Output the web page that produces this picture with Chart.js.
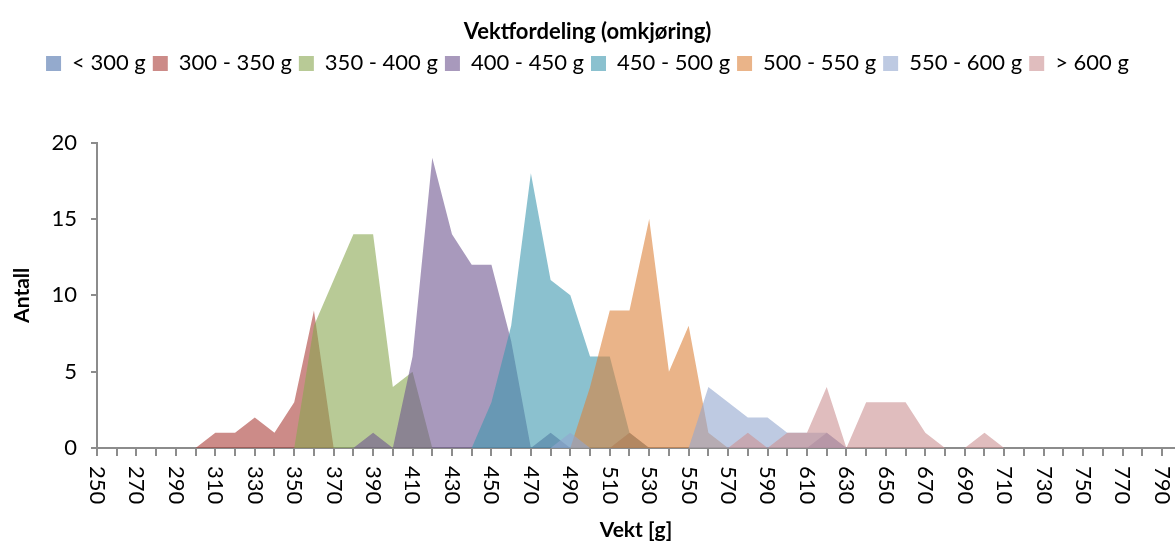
<!DOCTYPE html>
<html>
<head>
<meta charset="utf-8">
<script src="https://cdn.jsdelivr.net/npm/chart.js@4/dist/chart.umd.min.js"></script>
<style>
  body { margin: 0; background: #fff; }
  #wrap { width: 1175px; height: 543px; }
</style>
</head>
<body>
<div id="wrap"><canvas id="chart"></canvas></div>
<script>
// weight classes (g) on the category axis
const weights = [250, 260, 270, 280, 290, 300, 310, 320, 330, 340,
  350, 360, 370, 380, 390, 400, 410, 420, 430, 440,
  450, 460, 470, 480, 490, 500, 510, 520, 530, 540,
  550, 560, 570, 580, 590, 600, 610, 620, 630, 640,
  650, 660, 670, 680, 690, 700, 710, 720, 730, 740,
  750, 760, 770, 780, 790];

// labelled ticks on the x axis
const xTickLabels = [250, 270, 290, 310, 330, 350, 370, 390, 410, 430, 450, 470, 490,
  510, 530, 550, 570, 590, 610, 630, 650, 670, 690, 710, 730, 750, 770, 790];

const seriesNames = ["< 300 g", "300 - 350 g", "350 - 400 g", "400 - 450 g",
  "450 - 500 g", "500 - 550 g", "550 - 600 g", "> 600 g"];

// counts per weight class, one array per series
const under300 = [0,0,0,0,0, 0,0,0,0,0, 0,0,0,0,0, 0,0,0,0,0, 0,0,0,0,0, 0,0,0,0,0, 0,0,0,0,0, 0,0,0,0,0, 0,0,0,0,0, 0,0,0,0,0, 0,0,0,0,0];
const g300to350 = [0,0,0,0,0, 0,1,1,2,1, 3,9,0,0,0, 0,0,0,0,0, 0,0,0,0,0, 0,0,1,0,0, 0,0,0,0,0, 0,0,0,0,0, 0,0,0,0,0, 0,0,0,0,0, 0,0,0,0,0];
const g350to400 = [0,0,0,0,0, 0,0,0,0,0, 0,8,11,14,14, 4,5,0,0,0, 0,0,0,0,0, 0,0,0,0,0, 0,0,0,0,0, 0,0,0,0,0, 0,0,0,0,0, 0,0,0,0,0, 0,0,0,0,0];
const g400to450 = [0,0,0,0,0, 0,0,0,0,0, 0,0,0,0,1, 0,6,19,14,12, 12,7,0,1,0, 0,0,0,0,0, 0,0,0,0,0, 0,0,1,0,0, 0,0,0,0,0, 0,0,0,0,0, 0,0,0,0,0];
const g450to500 = [0,0,0,0,0, 0,0,0,0,0, 0,0,0,0,0, 0,0,0,0,0, 3,8,18,11,10, 6,6,1,0,0, 0,0,0,0,0, 0,0,0,0,0, 0,0,0,0,0, 0,0,0,0,0, 0,0,0,0,0];
const g500to550 = [0,0,0,0,0, 0,0,0,0,0, 0,0,0,0,0, 0,0,0,0,0, 0,0,0,0,0, 4,9,9,15,5, 8,1,0,0,0, 0,0,0,0,0, 0,0,0,0,0, 0,0,0,0,0, 0,0,0,0,0];
const g550to600 = [0,0,0,0,0, 0,0,0,0,0, 0,0,0,0,0, 0,0,0,0,0, 0,0,0,0,1, 0,0,0,0,0, 0,4,3,2,2, 1,1,1,0,0, 0,0,0,0,0, 0,0,0,0,0, 0,0,0,0,0];
const over600 = [0,0,0,0,0, 0,0,0,0,0, 0,0,0,0,0, 0,0,0,0,0, 0,0,0,0,0, 0,0,0,0,0, 0,0,0,1,0, 1,1,4,0,3, 3,3,1,0,0, 1,0,0,0,0, 0,0,0,0,0];

const allSeries = [under300, g300to350, g350to400, g400to450, g450to500, g500to550, g550to600, over600];

// semi transparent fills, like the Excel area chart
const fills = [
  "rgba(77, 113, 172, 0.6)",
  "rgba(170, 62, 57, 0.6)",
  "rgba(137, 167, 80, 0.6)",
  "rgba(110, 85, 143, 0.6)",
  "rgba(62, 152, 175, 0.6)",
  "rgba(220, 130, 58, 0.6)",
  "rgba(147, 167, 207, 0.6)",
  "rgba(203, 145, 147, 0.6)"
];

const FONT = "Lato, 'Open Sans', sans-serif";
const AXIS_GREY = "#8c8c8c";

const datasets = allSeries.map((values, i) => ({
  label: seriesNames[i],
  data: values.map((v, j) => ({ x: weights[j], y: v })),
  backgroundColor: fills[i],
  borderWidth: 0,
  borderColor: "rgba(0,0,0,0)",
  pointRadius: 0,
  pointHoverRadius: 0,
  tension: 0,
  fill: "origin",
  order: -i // later series drawn on top
}));

// x tick labels, rotated clockwise like the original
const xLabelPlugin = {
  id: "xLabels",
  afterDraw(chart) {
    const xs = chart.scales.x;
    const ctx = chart.ctx;
    ctx.save();
    ctx.font = "22px " + FONT;
    ctx.fillStyle = "#000";
    ctx.textAlign = "left";
    ctx.textBaseline = "middle";
    xTickLabels.forEach((w) => {
      const px = xs.getPixelForValue(w);
      ctx.save();
      ctx.translate(px, xs.top + 18);
      ctx.rotate(Math.PI / 2);
      ctx.fillText(String(w), 0, 0);
      ctx.restore();
    });
    ctx.restore();
  }
};

new Chart(document.getElementById("chart"), {
  type: "line",
  data: { datasets: datasets },
  options: {
    responsive: true,
    maintainAspectRatio: false,
    devicePixelRatio: 1,
    animation: false,
    events: [],
    layout: { padding: { left: 0, right: 0, top: 0, bottom: 0 } },
    plugins: {
      title: {
        display: true,
        text: "Vektfordeling (omkjøring)",
        color: "#000",
        font: { family: FONT, size: 22, weight: "bold" },
        padding: { top: 19, bottom: 0 }
      },
      legend: {
        position: "top",
        labels: {
          color: "#000",
          font: { family: FONT, size: 22 },
          boxWidth: 15,
          boxHeight: 15,
          padding: 7,
          sort: (a, b) => a.datasetIndex - b.datasetIndex
        }
      },
      // empty spacer between legend and plot area
      subtitle: {
        display: true,
        text: "",
        position: "top",
        weight: 500,
        font: { size: 1 },
        padding: { top: 0, bottom: 57 }
      },
      tooltip: { enabled: false }
    },
    scales: {
      x: {
        type: "linear",
        min: 250,
        max: 796.6,
        afterBuildTicks: (scale) => {
          scale.ticks = weights.filter((w) => w <= scale.max).map((w) => ({ value: w }));
        },
        afterFit: (scale) => { scale.height = 95; },
        ticks: { display: false, stepSize: 10 },
        grid: {
          drawOnChartArea: false,
          drawTicks: true,
          tickLength: 8,
          color: AXIS_GREY,
          lineWidth: 2
        },
        border: { display: true, color: AXIS_GREY, width: 2 },
        title: {
          display: true,
          text: "Vekt [g]",
          color: "#000",
          font: { family: FONT, size: 21, weight: "bold" },
          padding: { top: 0, bottom: 0 }
        }
      },
      y: {
        min: 0,
        max: 20,
        afterFit: (scale) => { scale.width = 97; },
        ticks: {
          stepSize: 5,
          color: "#000",
          padding: 14,
          font: { family: FONT, size: 22 }
        },
        grid: {
          drawOnChartArea: false,
          drawTicks: true,
          tickLength: 6,
          color: AXIS_GREY,
          lineWidth: 2
        },
        border: { display: true, color: AXIS_GREY, width: 2 },
        title: {
          display: true,
          text: "Antall",
          color: "#000",
          font: { family: FONT, size: 21, weight: "bold" },
          padding: { top: 10, bottom: 0 }
        }
      }
    }
  },
  plugins: [xLabelPlugin]
});
</script>
</body>
</html>
